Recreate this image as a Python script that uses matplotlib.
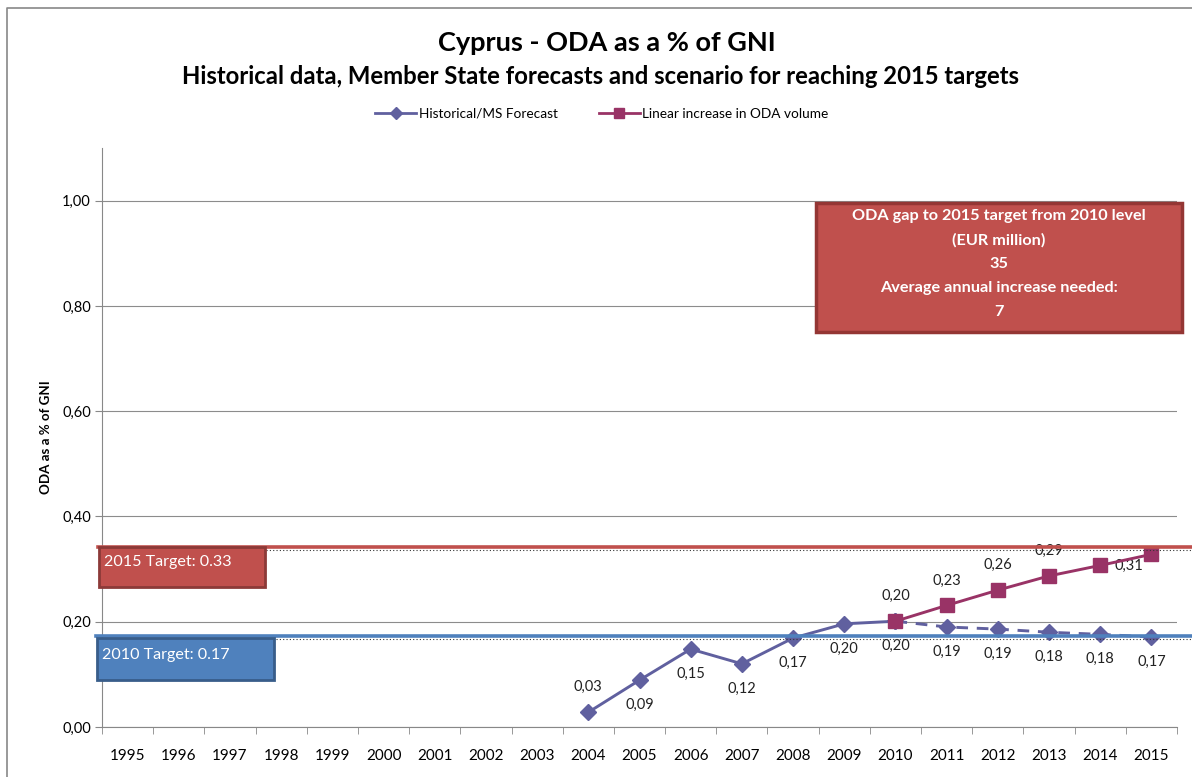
import matplotlib
matplotlib.use('Agg')
import matplotlib.pyplot as plt
import matplotlib.transforms as mtransforms
from matplotlib.patches import Rectangle
from matplotlib.lines import Line2D

plt.rcParams['font.family'] = ['Lato', 'DejaVu Sans']

# dados
anos = list(range(1995, 2016))
anos_hist = [2004, 2005, 2006, 2007, 2008, 2009, 2010]
hist = [0.028, 0.089, 0.148, 0.120, 0.169, 0.196, 0.201]
anos_prev = [2010, 2011, 2012, 2013, 2014, 2015]
previsao = [0.201, 0.190, 0.186, 0.180, 0.176, 0.171]
linear = [0.201, 0.231, 0.260, 0.287, 0.307, 0.328]
meta_2015 = 0.342
meta_2010 = 0.173
texto_caixa = ["ODA gap to 2015 target from 2010 level", "(EUR million)", "35",
               "Average annual increase needed:", "7"]

cor_hist = '#60609F'
cor_lin = '#993366'
cor_verm = '#C0504D'
cor_azul = '#4F81BD'

W, H = 1192, 777
fig = plt.figure(figsize=(W / 100, H / 100), dpi=100)
ax = fig.add_axes([102 / W, 1 - 727 / H, (1177 - 102) / W, (727 - 148) / H])

idx = {a: i for i, a in enumerate(anos)}
xh = [idx[a] for a in anos_hist]
xp = [idx[a] for a in anos_prev]

ax.plot(xh, hist, color=cor_hist, lw=2.1, marker='D', ms=8.5, zorder=4)
ax.plot(xp, previsao, color=cor_hist, lw=2.1, ls=(0, (4, 3)), marker='D', ms=8.5, zorder=4)
ax.plot(xp, linear, color=cor_lin, lw=2.1, marker='s', ms=10.5, zorder=5)

# rotulos
def rotulo(x, y, dy, dx=0, ha='center'):
    ax.annotate(f"{y:.2f}".replace('.', ','), (x, y), xytext=(dx, dy),
                textcoords='offset points', ha=ha, va='center', fontsize=10.5, color='#222222')

for i, (x, y) in enumerate(zip(xh, hist)):
    rotulo(x, y, 18 if i == 0 else -18)
for x, y in zip(xp[1:], previsao[1:]):
    rotulo(x, y, -18)
for i, (x, y) in enumerate(zip(xp[:-1], linear[:-1])):
    if i == 4:
        rotulo(x, y, 0, dx=10, ha='left')
    else:
        rotulo(x, y, 18)

ax.set_xlim(-0.5, len(anos) - 0.5)
ax.set_ylim(0, 1.1)
ax.set_xticks(range(len(anos)))
ax.set_xticklabels([str(a) for a in anos], fontsize=11)
ax.set_xticks([i - 0.5 for i in range(len(anos) + 1)], minor=True)
ax.tick_params(axis='x', which='major', length=0, pad=16)
ax.tick_params(axis='x', which='minor', length=5, color='#888888')
ax.set_yticks([0, 0.2, 0.4, 0.6, 0.8, 1.0])
ax.set_yticklabels([f"{v:.2f}".replace('.', ',') for v in [0, 0.2, 0.4, 0.6, 0.8, 1.0]], fontsize=10.5)
ax.tick_params(axis='y', length=5, color='#888888', pad=3)
ax.yaxis.grid(True, color='#8C8C8C', lw=0.8)
ax.set_axisbelow(True)
for s in ['top', 'right']:
    ax.spines[s].set_visible(False)
for s in ['left', 'bottom']:
    ax.spines[s].set_color('#888888')
ax.set_ylabel('ODA as a % of GNI', fontsize=9.6, fontweight='bold', labelpad=7)

# linhas de meta
tr = mtransforms.blended_transform_factory(fig.transFigure, ax.transData)
fig.add_artist(Line2D([98 / W, 1], [meta_2015, meta_2015], transform=tr, color=cor_verm, lw=2.6, zorder=6))
fig.add_artist(Line2D([266 / W, 1], [meta_2015 - 0.006, meta_2015 - 0.006], transform=tr,
                      color='#333333', lw=0.8, ls=(0, (1, 2)), zorder=6))
fig.add_artist(Line2D([96 / W, 1], [meta_2010, meta_2010], transform=tr, color=cor_azul, lw=2.6, zorder=6))
fig.add_artist(Line2D([276 / W, 1], [meta_2010 - 0.006, meta_2010 - 0.006], transform=tr,
                      color='#333333', lw=0.8, ls=(0, (1, 2)), zorder=6))

fig.add_artist(Rectangle((99 / W, 1 - 587 / H), 166 / W, 40 / H, transform=fig.transFigure,
                         facecolor=cor_verm, edgecolor='#8C3A38', lw=2, zorder=7))
fig.text(104 / W, 1 - 562 / H, '2015 Target: 0.33', color='white', fontsize=11.6, va='center', zorder=8)
fig.add_artist(Rectangle((97 / W, 1 - 680 / H), 177 / W, 42 / H, transform=fig.transFigure,
                         facecolor=cor_azul, edgecolor='#385D8A', lw=2, zorder=7))
fig.text(102 / W, 1 - 655 / H, '2010 Target: 0.17', color='white', fontsize=11.6, va='center', zorder=8)

# caixa grande
fig.add_artist(Rectangle((816 / W, 1 - 332 / H), 366 / W, 129 / H, transform=fig.transFigure,
                         facecolor=cor_verm, edgecolor='#943634', lw=2.5, zorder=7))
for i, t in enumerate(texto_caixa):
    fig.text(999 / W, 1 - (216 + 24 * i) / H, t, color='white', fontsize=11.7, fontweight='bold',
             ha='center', va='center', zorder=8)

# moldura
fig.add_artist(Line2D([7 / W, 7 / W, 1], [0, 1 - 8 / H, 1 - 8 / H], transform=fig.transFigure,
                      color='#888888', lw=1.2))

fig.text(607 / W, 1 - 43 / H, 'Cyprus - ODA as a % of GNI', fontsize=19.5, fontweight='bold',
         ha='center', va='center')
fig.text(601 / W, 1 - 77 / H, 'Historical data, Member State forecasts and scenario for reaching 2015 targets',
         fontsize=17.2, fontweight='bold', ha='center', va='center')

handles = [Line2D([], [], color=cor_hist, lw=2, marker='D', ms=6),
           Line2D([], [], color=cor_lin, lw=2, marker='s', ms=7)]
fig.legend(handles, ['Historical/MS Forecast', 'Linear increase in ODA volume'], loc='center',
           bbox_to_anchor=(602 / W, 1 - 114 / H), ncol=2, frameon=False, fontsize=9.8,
           handlelength=3, handletextpad=0.2, columnspacing=3)

fig.savefig('out.png', dpi=100)
